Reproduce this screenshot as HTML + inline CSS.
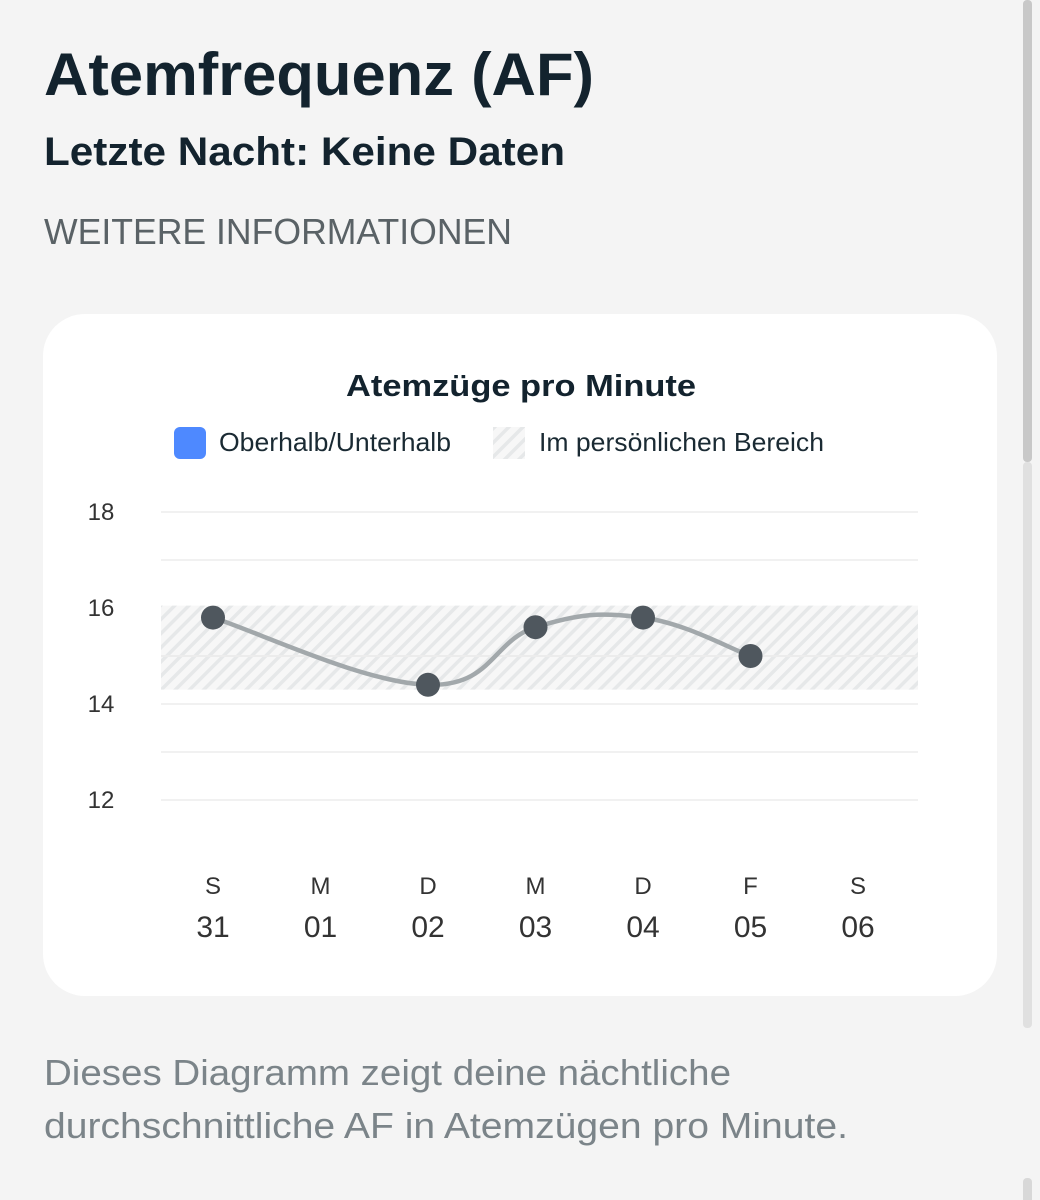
<!DOCTYPE html>
<html><head><meta charset="utf-8"><style>
html,body{margin:0;padding:0;background:#f4f4f4;width:1040px;height:1200px;overflow:hidden}
svg{display:block;font-family:"Liberation Sans",sans-serif}
</style></head><body>
<svg width="1040" height="1200" viewBox="0 0 1040 1200">
<defs>
<pattern id="hatch" width="10" height="10" patternUnits="userSpaceOnUse" patternTransform="rotate(45)">
<rect width="10" height="10" fill="#f7f7f7"/><rect width="3.5" height="10" fill="#e6e8e9"/>
</pattern>
</defs>
<rect x="1023" y="0" width="9" height="462" rx="4" fill="#c8c8c8"/>
<rect x="1023" y="202" width="9" height="826" rx="4" fill="#e2e2e2" transform="translate(0,0)" opacity="0"/>
<rect x="1023" y="462" width="9" height="566" rx="4" fill="#e0e0e0"/>
<rect x="1023" y="1178" width="9" height="30" rx="4" fill="#d8d8d8"/>

<text x="44" y="95" font-size="60" font-weight="bold" fill="#13232e" textLength="550" lengthAdjust="spacingAndGlyphs">Atemfrequenz (AF)</text>
<text x="44" y="165" font-size="40" font-weight="bold" fill="#13232e" textLength="521" lengthAdjust="spacingAndGlyphs">Letzte Nacht: Keine Daten</text>
<text x="44" y="244" font-size="36" fill="#5a6266" textLength="468" lengthAdjust="spacingAndGlyphs">WEITERE INFORMATIONEN</text>

<rect x="43" y="314" width="954" height="682" rx="42" fill="#ffffff"/>
<text x="521" y="396" font-size="31" font-weight="bold" fill="#13232e" text-anchor="middle" textLength="350" lengthAdjust="spacingAndGlyphs">Atemzüge pro Minute</text>
<g>
<rect x="174" y="427" width="32" height="32" rx="6" fill="#4e89ff"/>
<text x="219" y="451" font-size="26" fill="#1a2a33" textLength="232" lengthAdjust="spacingAndGlyphs">Oberhalb/Unterhalb</text>
<rect x="493" y="427" width="32" height="32" fill="url(#hatch)"/>
<text x="539" y="451" font-size="26" fill="#1a2a33" textLength="285" lengthAdjust="spacingAndGlyphs">Im persönlichen Bereich</text>
</g>
<g id="chart"></g>

<text x="44" y="1085" font-size="36" fill="#7b8489" textLength="687" lengthAdjust="spacingAndGlyphs">Dieses Diagramm zeigt deine nächtliche</text>
<text x="44" y="1138" font-size="36" fill="#7b8489" textLength="804" lengthAdjust="spacingAndGlyphs">durchschnittliche AF in Atemzügen pro Minute.</text>
</svg>
<script>
const dayLetters=["S","M","D","M","D","F","S"];
const dayNumbers=["31","01","02","03","04","05","06"];
const values=[15.8,null,14.4,15.6,15.8,15.0,null];
const yTicks=[12,14,16,18];
const gridValues=[12,13,14,15,16,17,18];
const rangeLow=14.3, rangeHigh=16.05;

const NS="http://www.w3.org/2000/svg";
const g=document.getElementById('chart');
const X0=213, DX=107.5, XL=161, XR=918;
function x(i){return X0+i*DX;}
function y(v){return 800-(v-12)*48;}
function el(tag,attrs){const e=document.createElementNS(NS,tag);for(const k in attrs)e.setAttribute(k,attrs[k]);g.appendChild(e);return e;}

gridValues.forEach(v=>{
  const l=el('line',{x1:XL,x2:XR,y1:y(v),y2:y(v),stroke:'#f1f1f1','stroke-width':2});
  
  
});
const band=el('rect',{x:XL,y:y(rangeHigh),width:XR-XL,height:y(rangeLow)-y(rangeHigh),fill:'url(#hatch)'});


const mid=el('line',{x1:XL,x2:XR,y1:y(15),y2:y(15),stroke:'#ececec','stroke-width':2});



yTicks.forEach(v=>{
  const t=el('text',{x:101,y:y(v)+8,'font-size':24,fill:'#333','text-anchor':'middle'});
  t.textContent=v;
  
  
});
dayLetters.forEach((d,i)=>{
  const t=el('text',{x:x(i),y:894,'font-size':24,fill:'#333','text-anchor':'middle'});
  t.textContent=d;
  
  
  const n=el('text',{x:x(i),y:937,'font-size':30,fill:'#333','text-anchor':'middle'});
  n.textContent=dayNumbers[i];
  
  
});

const pts=[];
values.forEach((v,i)=>{if(v!==null)pts.push([x(i),y(v)]);});
let d='M'+pts[0][0]+','+pts[0][1];
for(let i=0;i<pts.length-1;i++){
  const p0=pts[i-1]||pts[i],p1=pts[i],p2=pts[i+1],p3=pts[i+2]||p2;
  const t=0.2;
  const c1=[p1[0]+(p2[0]-p0[0])*t,p1[1]+(p2[1]-p0[1])*t];
  const c2=[p2[0]-(p3[0]-p1[0])*t,p2[1]-(p3[1]-p1[1])*t];
  d+=' C'+c1[0]+','+c1[1]+' '+c2[0]+','+c2[1]+' '+p2[0]+','+p2[1];
}
const line=el('path',{d:d,fill:'none',stroke:'#a2a8ab','stroke-width':4.5,'stroke-linecap':'round'});


values.forEach((v,i)=>{
  if(v===null)return;
  const c=el('circle',{cx:x(i),cy:y(v),r:12,fill:'#4f575e'});
  
  
});
</script>
</body></html>
